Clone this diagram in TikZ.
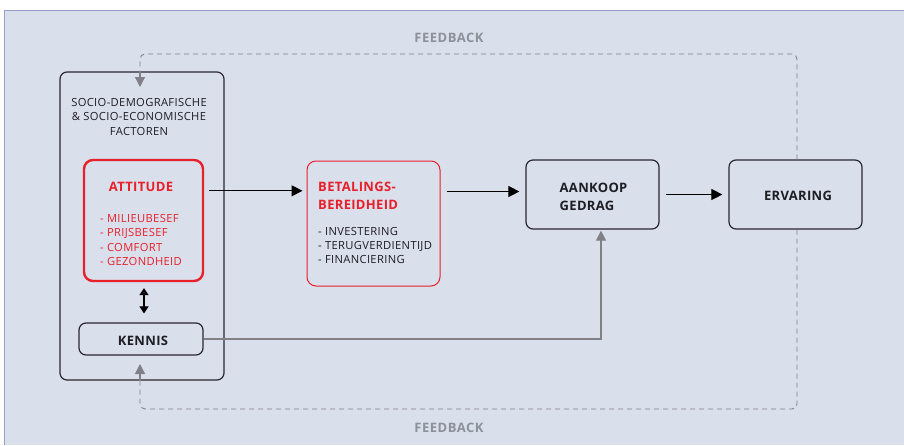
\documentclass[tikz,border=0pt]{standalone}
\usepackage{fontspec}
\setmainfont{Open Sans}
\usetikzlibrary{arrows.meta}
\definecolor{panel}{RGB}{218,223,236}
\definecolor{panelline}{RGB}{150,158,200}
\definecolor{myred}{RGB}{232,32,42}
\definecolor{fbgray}{RGB}{128,128,134}
\definecolor{fbtext}{RGB}{140,144,152}
\definecolor{boxline}{RGB}{40,40,48}
\definecolor{txt}{RGB}{30,30,36}
\tikzset{
  box/.style={draw=boxline, line width=1.2pt, rounded corners=7pt, fill=panel, inner sep=0pt},
  redbox/.style={draw=myred, rounded corners=9pt, fill=panel, inner sep=0pt},
  arr/.style={-{Triangle[length=11pt,width=11pt]}, line width=1.1pt, black},
  grayarr/.style={-{Triangle[length=10pt,width=10pt]}, line width=1.2pt, fbgray},
  fbline/.style={dash pattern=on 5pt off 4pt, line width=0.9pt, fbgray, rounded corners=5pt},
  lbl/.style={font=\fontsize{11.2}{13}\selectfont\addfontfeatures{LetterSpace=3}, text=txt, inner sep=0pt},
  bold/.style={font=\fontsize{13}{18}\selectfont\bfseries\addfontfeatures{LetterSpace=2.5}, text=txt, inner sep=0pt},
  fb/.style={font=\fontsize{13}{15}\selectfont\bfseries\addfontfeatures{LetterSpace=4}, text=fbtext, inner sep=0pt}
}
\begin{document}
\begin{tikzpicture}[x=1pt,y=-1pt]
\useasboundingbox (0,0) rectangle (904,445);
\fill[white] (0,0) rectangle (904,445);
\fill[panel] (4,10) rectangle (904,445);
\draw[panelline, line width=0.8pt] (4,445) -- (4,10) -- (904,10);

% boxes
\node[box, minimum width=164pt, minimum height=308pt] (outer) at (142,226) {};
\node[redbox, line width=2.4pt, minimum width=119pt, minimum height=121pt] (attitude) at (143.5,220.5) {};
\node[box, minimum width=124pt, minimum height=32pt] (kennis) at (141,339) {};
\node[redbox, line width=1pt, minimum width=133pt, minimum height=125pt] (betal) at (373.5,223.5) {};
\node[box, minimum width=133pt, minimum height=69pt] (aankoop) at (592.5,194.5) {};
\node[box, minimum width=133pt, minimum height=69pt] (ervaring) at (795.5,194.5) {};

% texts
\node[lbl, anchor=base] (socio1) at (139,106) {SOCIO-DEMOGRAFISCHE};
\node[lbl, anchor=base] (socio2) at (139,120.5) {\& SOCIO-ECONOMISCHE};
\node[lbl, anchor=base] (socio3) at (139,135) {FACTOREN};
\node[bold, text=myred, anchor=base] (atttitle) at (141,191) {ATTITUDE};
\node[lbl, text=myred, anchor=base west] (att1) at (100,222) {- MILIEUBESEF};
\node[lbl, text=myred, anchor=base west] (att2) at (100,236.5) {- PRIJSBESEF};
\node[lbl, text=myred, anchor=base west] (att3) at (100,251) {- COMFORT};
\node[lbl, text=myred, anchor=base west] (att4) at (100,265.5) {- GEZONDHEID};
\node[bold, text=myred, anchor=base west] (bet1) at (318,191) {BETALINGS-};
\node[bold, text=myred, anchor=base west] (bet2) at (318,209) {BEREIDHEID};
\node[lbl, anchor=base west] (betl1) at (318,235) {- INVESTERING};
\node[lbl, anchor=base west] (betl2) at (318,249) {- TERUGVERDIENTIJD};
\node[lbl, anchor=base west] (betl3) at (318,263) {- FINANCIERING};
\node[bold, anchor=base west] (ak1) at (559.5,192) {AANKOOP};
\node[bold, anchor=base west] (ak2) at (559.5,210) {GEDRAG};
\node[bold] (ertext) at (798,195.5) {ERVARING};
\node[bold] (ketext) at (143,341) {KENNIS};
\node[fb] (fbtop) at (449,37.5) {FEEDBACK};
\node[fb] (fbbot) at (449,428) {FEEDBACK};

% main arrows
\draw[arr, shorten <=5pt, shorten >=4pt] ([yshift=-32pt]attitude.north east) -- ([yshift=-32pt]attitude.north east -| betal.west);
\draw[arr, shorten <=6pt, shorten >=6pt] ([yshift=-31pt]betal.north east) -- ([yshift=-31pt]betal.north east -| aankoop.west);
\draw[arr, shorten <=6pt, shorten >=6pt] (aankoop.east) -- (ervaring.west);
\draw[{Triangle[length=7pt,width=9pt]}-{Triangle[length=7pt,width=9pt]}, line width=1.1pt, shorten <=6pt, shorten >=9pt] ([xshift=0.5pt]attitude.south) -- ([xshift=0.5pt]attitude.south |- kennis.north);

% kennis -> aankoop
\draw[grayarr, rounded corners=0pt, shorten >=1pt] (kennis.east) -| ([xshift=8.5pt]aankoop.south);

% feedback loops
\coordinate (fbtl) at (140,54);
\coordinate (fbbl) at (140,409);
\coordinate (toptip) at (140,87);
\coordinate (bottip) at (140,364);
\draw[fbline] ([xshift=1.5pt]ervaring.north) |- (fbtl) -- (fbtl |- outer.north);
\draw[grayarr] (fbtl |- outer.north) -- (toptip);
\draw[fbline] ([xshift=1.5pt]ervaring.south) |- (fbbl) -- (fbbl |- outer.south);
\draw[grayarr] (fbbl |- outer.south) -- (bottip);
\end{tikzpicture}
\end{document}
